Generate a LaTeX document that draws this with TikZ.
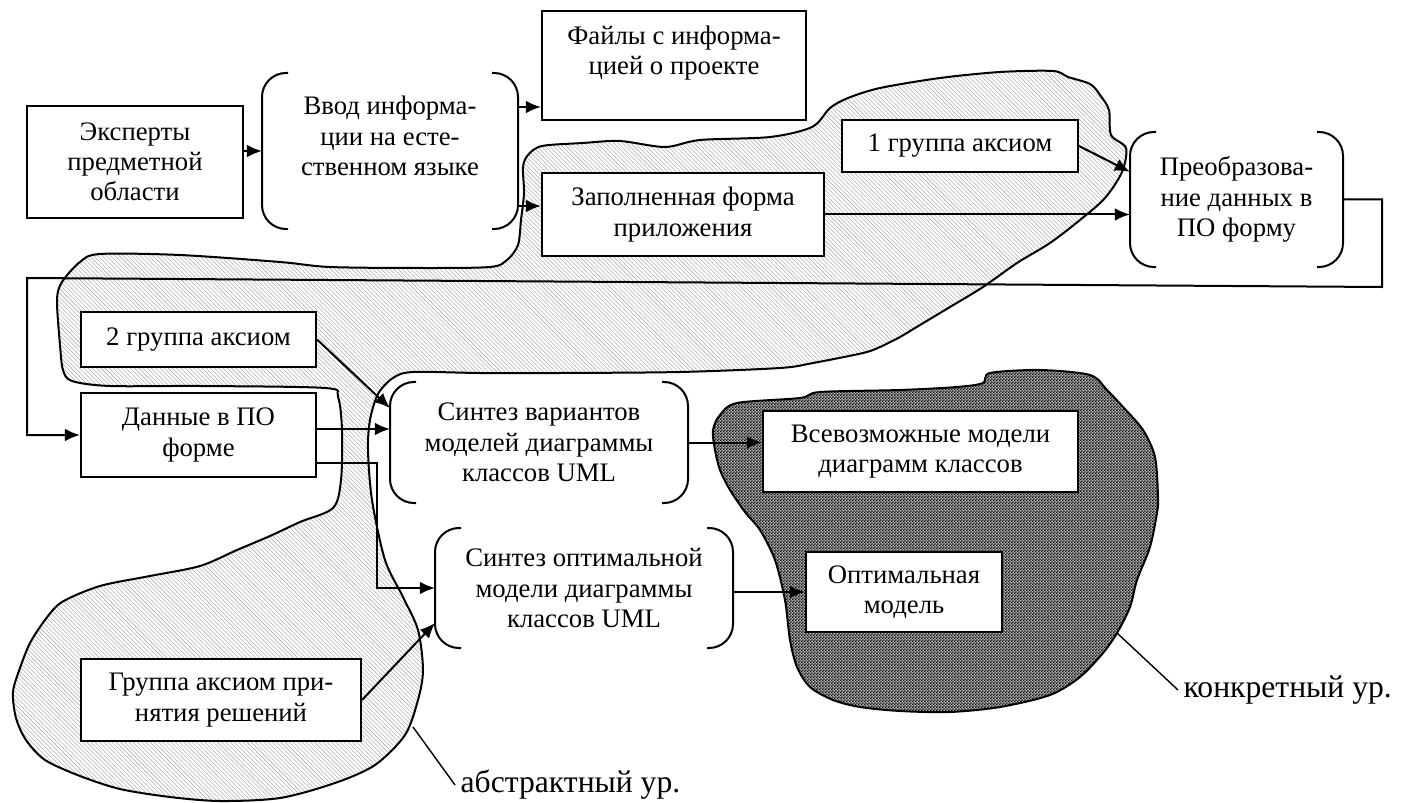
\documentclass[tikz,border=0pt]{standalone}
\usepackage{fontspec}
\setmainfont{Liberation Serif}
\usepackage{tikz}
\usetikzlibrary{calc, positioning}
\usetikzlibrary{patterns}
\usetikzlibrary{shapes, arrows, arrows.meta}
\newcommand{\boxfont}{\fontsize{19}{21.5}\selectfont}
\newcommand{\lblfont}{\fontsize{22.5}{26}\selectfont}
\pgfdeclarepatternformonly{finechecker}{\pgfpointorigin}{\pgfqpoint{2pt}{2pt}}{\pgfqpoint{2pt}{2pt}}{
    \pgfpathrectangle{\pgfpointorigin}{\pgfqpoint{1pt}{1pt}}
    \pgfpathrectangle{\pgfqpoint{1pt}{1pt}}{\pgfqpoint{1pt}{1pt}}
    \pgfusepath{fill}}
\tikzset{  
    auto, every picture/.style={line width=0.5mm},% one unit of x and y is one pixel of the scanned figure
}

\begin{document}
\begin{tikzpicture}[x=0.25mm, y=-0.25mm
        ,box/.style ={draw, fill=white, align=center, inner sep=0pt, font=\boxfont},
        brk/.style ={align=center, inner sep=0pt, font=\boxfont},
        arr/.style ={-{Latex[length=3.8mm, width=3.2mm]}},]
            \useasboundingbox (0,0) rectangle (1411,803);
            % abstract level
            \draw[pattern=north west lines, pattern color=gray!60] plot[smooth cycle, tension=0.5] coordinates {
                (57,300) (62,282) (80,262) (100,254) (180,255) (280,262) (330,267) (420,268) (490,267)
                (507,260) (518,245) (521,220) (524,193) (523,167) (528,155) (542,146) (583,143) (620,141)
                (665,147) (700,140) (770,137) (812,127) (830,108) (848,98) (880,88) (940,78) (1000,72)
                (1053,71) (1068,77) (1090,84) (1100,95) (1109,110) (1111,135) (1126,148) (1122,172)
                (1105,198) (1080,220) (1050,243) (1017,263) (983,287) (950,307) (920,325) (900,337)
                (880,347) (863,353) (813,363) (780,368) (680,372) (560,373) (480,373) (413,372) (393,378)
                (378,394) (370,420) (368,450) (372,500)
                (385,560) (403,597) (418,630) (423,670) (418,700) (405,735) (375,765) (335,783) (280,798)
                (220,801) (170,797) (120,789) (80,776) (45,760) (26,740) (16,718) (13,692) (20,668)
                (30,643) (45,620) (62,602) (100,586) (150,576) (200,566) (237,550) (270,536) (300,522)
                (333,508) (341,480) (342,430) (338,397) (325,388) (200,386) (110,386) (72,381) (63,370)
                (60,345)};
            % concrete level
            \draw[preaction={fill=black!30}, pattern=finechecker, pattern color=black] plot[smooth cycle, tension=0.5] coordinates {
                (737,403) (800,398) (820,392) (900,390) (957,387) (983,383) (990,373) (1040,370) (1090,375)
                (1107,390) (1123,407) (1143,430) (1155,457) (1158,497) (1157,513) (1150,547) (1137,580)
                (1130,607) (1117,633) (1103,653) (1080,677) (1050,695) (1000,707) (950,712) (900,711)
                (860,707) (833,700) (810,687) (797,667) (790,640) (785,600) (775,560) (760,530) (745,512)
                (730,490) (720,470) (715,450) (713,430) (720,415)};

            \node[box, minimum width=54mm, minimum height=28mm] (experts) at (135,162) {Эксперты\\предметной\\области};
            \node[brk, minimum width=63.5mm, minimum height=38.5mm] (vvod) at (390,151) {Ввод информа-\\ции на есте-\\ственном языке\\\mbox{}};
            \node[box, minimum width=66mm, minimum height=27.25mm] (files) at (674,65.5) {Файлы с информа-\\цией о проекте\\\mbox{}};
            \node[box, minimum width=70.5mm, minimum height=20.75mm] (form) at (683,214.5) {Заполненная форма\\приложения};
            \node[box, minimum width=59mm, minimum height=13mm] (ax1) at (960,146) {1 группа аксиом};
            \node[brk, minimum width=52.75mm, minimum height=33.25mm] (preob) at (1236.5,199.5) {Преобразова-\\ние данных в\\ПО форму};
            \node[box, minimum width=58.75mm, minimum height=13.75mm] (ax2) at (198.5,339.5) {2 группа аксиом};
            \node[box, minimum width=58.75mm, minimum height=21mm] (podata) at (198.5,435) {Данные в ПО\\форме};
            \node[brk, minimum width=74mm, minimum height=29.75mm] (sintv) at (539,442.5) {Синтез вариантов\\моделей диаграммы\\классов UML};
            \node[brk, minimum width=74mm, minimum height=29.5mm] (sinto) at (584,588) {Синтез оптимальной\\модели диаграммы\\классов UML};
            \node[box, minimum width=78.75mm, minimum height=20.25mm] (allmod) at (920.5,451.5) {Всевозможные модели\\диаграмм классов};
            \node[box, minimum width=49mm, minimum height=20mm] (optmod) at (904,592) {Оптимальная\\модель};
            \node[box, minimum width=70mm, minimum height=20.5mm] (ax3) at (221,700) {Группа аксиом при-\\нятия решений};

            \foreach \n in {vvod, preob, sintv, sinto} {
                \draw[rounded corners=6mm] ([xshift=6.5mm]\n.north west) -- (\n.north west) -- (\n.south west) -- ([xshift=6.5mm]\n.south west);
                \draw[rounded corners=6mm] ([xshift=-6.5mm]\n.north east) -- (\n.north east) -- (\n.south east) -- ([xshift=-6.5mm]\n.south east);
            }

            \coordinate (v1) at ([yshift=11mm]vvod.east);
            \coordinate (v2) at ([yshift=-13.75mm]vvod.east);
            \coordinate (d1) at ([yshift=1.5mm]podata.east);
            \coordinate (d2) at ([yshift=-7mm]podata.east);
            \coordinate (loopr) at (1382,287);
            \coordinate (loopl) at (27,278);
            \path[arr] (vvod.west -| experts.east) edge (vvod.west);
            \path[arr] (v1) edge (v1 -| files.west);
            \path[arr] (v2) edge (v2 -| form.west);
            \path[arr] (ax1.east) edge ([yshift=6.9mm]preob.west);
            \path[arr] (form.east) edge (form.east -| preob.west);
            \draw[arr] (preob.east) -| (loopr) -- (loopl) |- (podata.west);
            \path[arr] (ax2.east) edge ([yshift=8.6mm]sintv.west);
            \path[arr] (d1) edge (d1 -| sintv.west);
            \draw[arr] (d2) -- ++(60,0) |- (sinto.west);
            \path[arr] (ax3.east) edge ([yshift=-8.75mm]sinto.west);
            \path[arr] (sintv.east) edge (sintv.east -| allmod.west);
            \path[arr] (optmod.west -| sinto.east) edge (optmod.west);

            \node[anchor=west, font=\lblfont] (konkr) at (1178,690) {конкретный ур.};
            \node[anchor=west, font=\lblfont] (abstr) at (455,785) {абстрактный ур.};
            \coordinate (konkedge) at (1117,633);
            \coordinate (abstedge) at (413,727);
            \draw[line width=0.35mm] (konkedge) -- (konkr.west);
            \draw[line width=0.35mm] (abstedge) -- (abstr.west);
        \end{tikzpicture}
\end{document}
